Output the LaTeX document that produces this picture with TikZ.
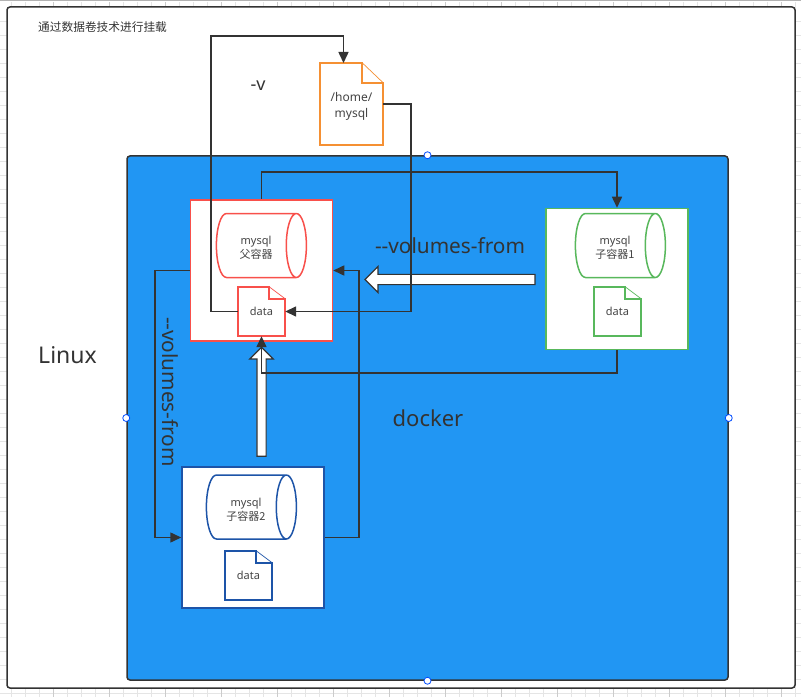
\documentclass[tikz,border=0pt]{standalone}
\usepackage{fontspec}
\setmainfont{Noto Sans}
\newfontfamily\cjk{Noto Sans CJK SC}
\usetikzlibrary{arrows.meta,shapes,shapes.geometric,shapes.arrows}
\definecolor{dockerblue}{HTML}{2196F3}
\definecolor{linedark}{HTML}{333333}
\definecolor{parentred}{HTML}{F8504B}
\definecolor{childgreen}{HTML}{58B85C}
\definecolor{childblue}{HTML}{1D54A8}
\definecolor{homeorange}{HTML}{F59033}
\definecolor{labelgray}{HTML}{444444}
% file shape: node name, colour, fold width, fold height
\newcommand{\filecorner}[4]{
	\draw[#2, line width=1.5pt, line join=miter] (#1.north west) -- ([xshift=-#3]#1.north east) -- ([xshift=-#3, yshift=-#4]#1.north east) -- ([yshift=-#4]#1.north east) -- (#1.south east) -- (#1.south west) -- cycle;
	\draw[#2, line width=0.7pt] ([xshift=-#3]#1.north east) -- ([yshift=-#4]#1.north east);
}
% two lines of a label, set a little low
\newcommand{\dbtext}[2]{\rule{0pt}{13pt}#1\\#2}
\begin{document}
\begin{tikzpicture}[
		x = 1pt,
		y = -1pt,
		> = {Triangle[length=11pt,width=10pt]}, % arrow head style
		link/.style = {draw = linedark, line width = 1.5pt},
		frame/.style = {draw = linedark, line width = 1.5pt, rounded corners = 3pt},
		container/.style = {draw = #1, line width = 1.5pt, fill = white, minimum width = 142pt, minimum height = 141pt, inner sep = 0pt},
		db/.style = {shape = cylinder, draw = #1, line width = 1.5pt, aspect = 0.72, minimum width = 64pt, minimum height = 90pt, inner sep = 0pt, align = center, font = \fontsize{11}{14}\selectfont, text = labelgray},
		datafile/.style = {minimum width = 47pt, minimum height = 49pt, inner sep = 0pt, font = \fontsize{11}{14}\selectfont, text = labelgray},
		bigarrow/.style = {shape = single arrow, draw = linedark, line width = 1.2pt, fill = white, single arrow tip angle = 90, inner sep = 4pt},
		handle/.style = {circle, draw = blue!70!cyan, fill = white, line width = 0.8pt, minimum size = 7pt, inner sep = 0pt},
		title/.style = {text = linedark, inner sep = 0pt}
	]
	
	\useasboundingbox (0,0) rectangle (801,698);
	
	% sheet grid
	\foreach \y in {0,...,48}
		\draw[black!10, line width = 0.5pt] (0,21+14*\y) -- (801,21+14*\y);
	\foreach \x in {0,...,56}
		\draw[black!10, line width = 0.5pt] (11.5+14*\x,2) -- (11.5+14*\x,697);
	\foreach \x in {0,...,13}
		\draw[black!20, line width = 0.5pt] (53.5+56*\x,2) -- (53.5+56*\x,697);
	\draw[black!30, line width = 1pt] (0,1) -- (801,1);
	
	\node[frame, minimum width = 788pt, minimum height = 681pt, fill = white] (linux) at (401,347.5) {};
	\node[frame, minimum width = 601pt, minimum height = 524pt, fill = dockerblue] (docker) at (427.5,418) {};
	
	\node[container = parentred] (parent) at (261.5,270.5) {};
	\node[container = childgreen] (child1) at (617,279) {};
	\node[container = childblue] (child2) at (253,537.5) {};
	
	\node[db = parentred] (dbp) at (256,245.5) {\dbtext{mysql}{\cjk 父容器}};
	\node[db = childgreen] (db1) at (615,245.5) {\dbtext{mysql}{\cjk 子容器1}};
	\node[db = childblue] (db2) at (246,507) {\dbtext{mysql}{\cjk 子容器2}};
	
	\node[datafile] (datap) at (261.5,311.5) {\raisebox{-1.5pt}{data}};
	\node[datafile] (data1) at (617.5,311.5) {\raisebox{-1.5pt}{data}};
	\node[datafile] (data2) at (248.5,575.5) {\raisebox{-1.5pt}{data}};
	\node[minimum width = 63pt, minimum height = 82pt, inner sep = 0pt, align = center, font = \fontsize{12}{16}\selectfont, text = labelgray] (home) at (351.5,104) {\dbtext{/home/}{mysql}};
	
	\filecorner{datap}{parentred}{16pt}{12pt}
	\filecorner{data1}{childgreen}{16pt}{12pt}
	\filecorner{data2}{childblue}{16pt}{12pt}
	\filecorner{home}{homeorange}{21pt}{20pt}
	
	\node[bigarrow, minimum width = 26pt, minimum height = 170pt, shape border rotate = 180] (arrow1) at (452.5,279.5) {};
	\node[bigarrow, minimum width = 21pt, minimum height = 109pt, shape border rotate = 90] (arrow2) at (261.5,404) {};
	
	\coordinate (hometop) at (343.5,63);
	\coordinate (vtop) at (211,36);
	\coordinate (phomeright) at (411,104);
	\coordinate (ptop) at (261.5,172);
	\coordinate (c1bottom) at (617,373);
	\coordinate (pleft) at (155,270.5);
	\coordinate (pright) at (359,537.5);
	
	\draw[link, ->] (datap.west) -| (vtop) -| (hometop);
	\draw[link, ->] (home.east) -| (phomeright) |- (datap.east);
	\draw[link, ->] (parent.north) |- (ptop) -| (child1.north);
	\draw[link, ->] (child1.south) |- (c1bottom) -| (datap.south);
	\draw[link, ->] (parent.west) -| (pleft) |- (child2.west);
	\draw[link, ->] (child2.east) -| (pright) |- (parent.east);
	
	\node[handle] (h1) at (docker.north) {};
	\node[handle] (h2) at (docker.west) {};
	\node[handle] (h3) at (docker.east) {};
	\node[handle] (h4) at (docker.south) {};
	
	\node[title, anchor = west, font = \fontsize{11.7}{14}\cjk] (note) at (38,27) {通过数据卷技术进行挂载};
	\node[title, font = \fontsize{18}{22}\selectfont] (vflag) at (258,86) {-v};
	\node[title, anchor = west, font = \fontsize{23}{28}\selectfont] (linuxlabel) at (38,355) {Linux};
	\node[title, font = \fontsize{22}{26}\selectfont] (dockerlabel) at (428,418) {docker};
	\node[title, font = \fontsize{20.8}{24}\selectfont] (from1) at (450,246) {-{}-volumes-from};
	\node[title, font = \fontsize{20.8}{24}\selectfont, rotate = -90] (from2) at (170,392) {-{}-volumes-from};
\end{tikzpicture}
\end{document}
